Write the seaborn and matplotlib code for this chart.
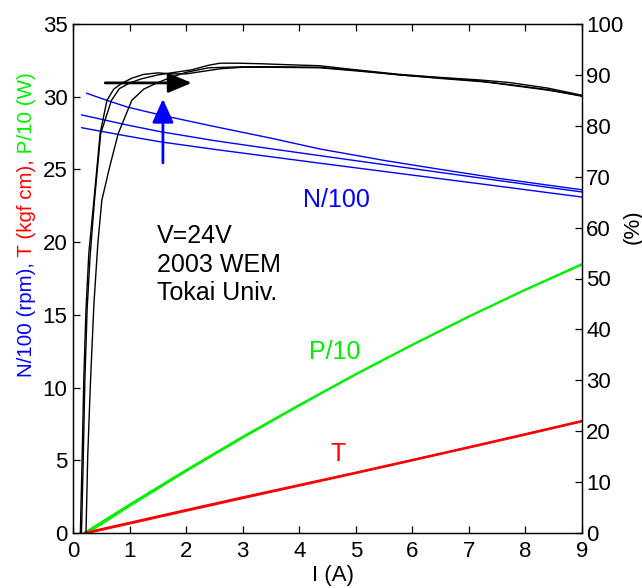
import seaborn as sns
import pandas as pd
import matplotlib.pyplot as plt

# speed N/100 (rpm), three runs
n1_x = [0.24, 0.6, 0.95, 1.54, 2.5, 3.5, 4.36, 5.5, 6.5, 7.5, 9.0]
n1_y = [30.24, 29.75, 29.3, 28.75, 27.95, 27.15, 26.41, 25.62, 25.0, 24.4, 23.6]
n2_x = [0.15, 0.5, 0.95, 1.54, 2.5, 3.5, 4.36, 5.5, 6.5, 7.5, 9.0]
n2_y = [28.75, 28.45, 28.06, 27.6, 26.98, 26.42, 25.95, 25.33, 24.79, 24.25, 23.45]
n3_x = [0.15, 0.5, 0.95, 1.54, 2.5, 3.5, 4.36, 5.5, 6.5, 7.5, 9.0]
n3_y = [27.87, 27.62, 27.3, 26.9, 26.38, 25.87, 25.43, 24.86, 24.36, 23.86, 23.1]

# output power P/10 (W)
p1_x = [0.2, 0.5, 1.0, 2.0, 3.0, 4.0, 5.0, 6.0, 7.0, 8.0, 9.0]
p1_y = [0.0, 0.745, 1.96, 4.33, 6.62, 8.81, 10.93, 12.95, 14.89, 16.74, 18.5]
p2_x = [0.25, 0.5, 1.0, 2.0, 3.0, 4.0, 5.0, 6.0, 7.0, 8.0, 9.0]
p2_y = [0.0, 0.6, 1.85, 4.25, 6.55, 8.76, 10.9, 12.93, 14.88, 16.72, 18.45]

# torque T (kgf cm)
t1_x = [0.2, 1, 2, 3, 4, 5, 6, 7, 8, 9]
t1_y = [0, 0.7, 1.58, 2.45, 3.3, 4.15, 5.02, 5.9, 6.8, 7.7]
t2_x = [0.25, 1, 2, 3, 4, 5, 6, 7, 8, 9]
t2_y = [0, 0.65, 1.53, 2.4, 3.26, 4.12, 5.0, 5.88, 6.77, 7.68]

# efficiency (%), right axis
ea_x = [0.13, 0.16, 0.19, 0.23, 0.28, 0.37, 0.48, 0.6, 0.72, 0.87, 1.05, 1.25, 1.5, 1.75, 2.0,
        2.3, 2.6, 3.0, 3.5, 4.36, 5.0, 5.78, 6.5, 7.2, 7.72, 8.4, 9.0]
ea_y = [0, 14, 30, 44, 55, 65.4, 78.5, 85, 87.2, 88.4, 89.4, 90.1, 90.4, 90.2, 90.2,
        90.7, 91.2, 91.5, 91.5, 91.4, 90.8, 90.0, 89.4, 88.8, 88.0, 87.0, 85.9]
eb_x = [0.15, 0.18, 0.21, 0.25, 0.3, 0.38, 0.49, 0.68, 0.82, 1.0, 1.2, 1.5, 1.8, 2.1, 2.4,
        2.6, 2.9, 3.3, 3.8, 4.36, 5.0, 5.78, 6.5, 7.2, 7.72, 8.4, 9.0]
eb_y = [0, 14, 30, 44, 54, 65.4, 78.5, 85, 87.3, 88.4, 89.2, 90.0, 90.5, 91.0, 91.9,
        92.3, 92.3, 92.2, 92.0, 91.8, 91.0, 90.1, 89.5, 89.0, 88.5, 87.4, 86.0]
ec_x = [0.23, 0.26, 0.31, 0.37, 0.44, 0.51, 0.65, 0.8, 1.04, 1.25, 1.48, 1.75, 2.0, 2.4,
        3.0, 3.6, 4.36, 5.0, 5.78, 6.5, 7.2, 7.72, 8.4, 9.0]
ec_y = [0, 15, 30, 45, 57, 65.4, 72, 78.5, 85, 87.2, 88.4, 89.6, 90.5, 91.4,
        91.6, 91.6, 91.5, 90.9, 90.0, 89.3, 88.7, 88.1, 87.1, 85.8]

left_ticks = [0, 5, 10, 15, 20, 25, 30, 35]
right_ticks = [0, 10, 20, 30, 40, 50, 60, 70, 80, 90, 100]
x_ticks = [0, 1, 2, 3, 4, 5, 6, 7, 8, 9]

BLUE = '#0000ff'
RED = '#ff0000'
GREEN = '#00f000'

sns.set_theme(style='ticks')
plt.rcParams['font.family'] = ['Liberation Sans', 'DejaVu Sans']
plt.rcParams['text.color'] = 'black'

fig = plt.figure(figsize=(6.42, 5.88), dpi=100)
ax = fig.add_axes([73/642, 1-533/588, (582-73)/642, (533-24)/588])
ax2 = ax.twinx()

def line(a, xs, ys, c, lw):
    df = pd.DataFrame({'x': xs, 'y': ys})
    sns.lineplot(data=df, x='x', y='y', ax=a, color=c, lw=lw, estimator=None, sort=False)

for xs, ys in [(n1_x, n1_y), (n2_x, n2_y), (n3_x, n3_y)]:
    line(ax, xs, ys, BLUE, 1.0)
for xs, ys in [(p1_x, p1_y), (p2_x, p2_y)]:
    line(ax, xs, ys, GREEN, 1.4)
for xs, ys in [(t1_x, t1_y), (t2_x, t2_y)]:
    line(ax, xs, ys, RED, 1.6)
for xs, ys in [(ea_x, ea_y), (eb_x, eb_y), (ec_x, ec_y)]:
    line(ax2, xs, ys, 'black', 1.0)

ax.annotate('', xy=(2.1, 30.95), xytext=(0.57, 30.95),
            arrowprops=dict(arrowstyle='-|>,head_length=1.0,head_width=0.42', color='black',
                            lw=2.0, mutation_scale=14.4, shrinkA=0, shrinkB=0))
ax.annotate('', xy=(1.59, 29.85), xytext=(1.59, 25.45),
            arrowprops=dict(arrowstyle='-|>,head_length=1.0,head_width=0.45', color=BLUE,
                            lw=2.0, mutation_scale=14.4, shrinkA=0, shrinkB=0))

ax.text(4.65, 22.45, 'N/100', color=BLUE, fontsize=18, ha='center', va='baseline')
ax.text(4.63, 11.97, 'P/10', color=GREEN, fontsize=18, ha='center', va='baseline')
ax.text(4.68, 4.97, 'T', color=RED, fontsize=18, ha='center', va='baseline')
ax.text(1.48, 19.94, 'V=24V', fontsize=18, ha='left', va='baseline')
ax.text(1.48, 17.96, '2003 WEM', fontsize=18, ha='left', va='baseline')
ax.text(1.48, 16.03, 'Tokai Univ.', fontsize=18, ha='left', va='baseline')

ax.set_xlim(0, 9)
ax.set_ylim(0, 35)
ax2.set_ylim(0, 100)
ax.set_xticks(x_ticks)
ax.set_yticks(left_ticks)
ax2.set_yticks(right_ticks)
ax.set_xlabel('')
ax.set_ylabel('')
ax2.set_ylabel('')
ax.tick_params(axis='x', direction='in', top=True, length=5, width=0.9, labelsize=16, pad=6, colors='black')
ax.tick_params(axis='y', direction='in', right=False, length=5, width=0.9, labelsize=16, pad=4, colors='black')
ax2.tick_params(axis='y', direction='in', length=5, width=0.9, labelsize=16, pad=3, colors='black')
for a in (ax, ax2):
    for s in a.spines.values():
        s.set_linewidth(0.9)
        s.set_color('black')

fig.text(333/642, 1-575/588, 'I (A)', fontsize=16, ha='center', va='center')
fig.text(633/642, 1-227/588, '(%)', fontsize=16, ha='center', va='center', rotation=90)

# multi-coloured left label
fig.canvas.draw()
r = fig.canvas.get_renderer()
y = 1 - 377/588
for s, c in [('N/100 (rpm),', BLUE), (' T (kgf cm),', RED), (' P/10 (W)', GREEN)]:
    t = fig.text(26/642, y, s, color=c, fontsize=14.8, rotation=90, ha='center', va='bottom')
    bb = t.get_window_extent(r)
    y += bb.height / fig.bbox.height

fig.savefig('out.png', dpi=100)
